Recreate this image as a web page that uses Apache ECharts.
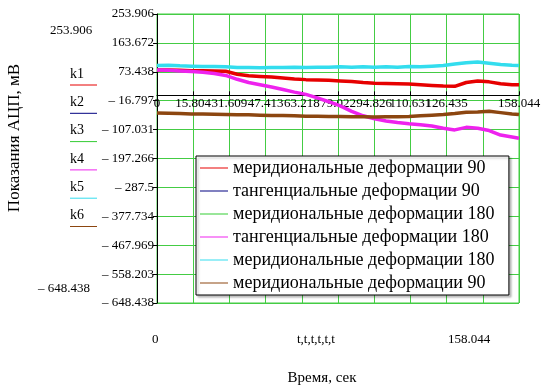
<!DOCTYPE html>
<html>
<head>
<meta charset="utf-8">
<script src="https://cdn.jsdelivr.net/npm/echarts@6/dist/echarts.min.js"></script>
<style>
  html, body { margin: 0; padding: 0; background: #ffffff; }
  #chart { width: 544px; height: 387px; }
</style>
</head>
<body>
<div id="chart"></div>
<script>
// Sample times, s
const time = [0, 5, 10, 15, 20, 25, 30, 35, 40, 45, 50, 55, 60, 65, 70, 75, 80, 85, 90, 95,
              100, 105, 110, 115, 120, 125, 130, 135, 140, 145, 150, 155, 158.044];

// ADC readings per channel, mV
const k1 = [79, 79, 78, 77, 77, 76, 75, 66, 61, 59, 57, 54, 51, 49, 48, 47, 45, 43, 40, 38,
            37, 36, 35, 33, 31, 29, 28, 40, 45, 42, 36, 33, 33];
const k2 = [];
const k3 = [];
const k4 = [79, 78, 76, 74, 72, 68, 62, 50, 40, 33, 26, 18, 10, 3, -8, -20, -33, -50, -64, -73,
            -80, -85, -89, -92, -96, -103, -108, -100, -103, -110, -124, -130, -134];
const k5 = [93, 94, 92, 91, 90, 90, 89, 87, 87, 86, 87, 87, 88, 87, 88, 88, 89, 88, 89, 88,
            89, 88, 90, 89, 91, 93, 98, 102, 104, 100, 96, 94, 93];
const k6 = [-55, -56, -57, -58, -58, -59, -60, -61, -61, -62, -63, -63, -64, -65, -65, -66, -66, -67, -67, -68,
            -67, -67, -66, -64, -62, -60, -57, -53, -52, -50, -54, -58, -60];

// Trailing spaces keep repeated captions as separate legend entries
const seriesNames = [
  'меридиональные деформации 90',
  'тангенциальные деформации 90',
  'меридиональные деформации 180',
  'тангенциальные деформации 180',
  'меридиональные деформации 180 ',
  'меридиональные деформации 90 '
];
const keyNames = ['k1', 'k2', 'k3', 'k4', 'k5', 'k6'];
const colors = ['#e60000', '#000080', '#33cc33', '#ee22ee', '#33ddee', '#8c4610'];

// Axis ranges and tick labels
const xMin = 0, xMax = 158.044, xStep = 15.8044;
const yMin = -648.438, yMax = 253.906, yStep = 90.2344;
const xTickLabels = ['0', '15.804', '31.609', '47.413', '63.218', '79.022', '94.826',
                     '110.631', '126.435', '142.24', '158.044'];
const yTickLabels = ['\u2013 648.438', '\u2013 558.203', '\u2013 467.969', '\u2013 377.734',
                     '\u2013 287.5', '\u2013 197.266', '\u2013 107.031', '\u2013 16.797',
                     '73.438', '163.672', '253.906'];

const FONT = 'Liberation Serif';
const gridGreen = '#44cc44';
const GRID = { left: 157, top: 14, width: 362, height: 289 };

// The time axis is drawn across the plot at zero mV
const zeroY = GRID.top + (yMax - 0) / (yMax - yMin) * GRID.height;
const xAxisOffset = zeroY - (GRID.top + GRID.height);

function pairs(vals) {
  return vals.map((v, i) => [time[i], v]);
}
const channels = [k1, k2, k3, k4, k5, k6];

const chart = echarts.init(document.getElementById('chart'), null, { renderer: 'canvas' });

// Channel key (k1..k6) with its colour swatch, left of the axis
const keyGraphics = [];
keyNames.forEach((k, i) => {
  const yText = 75 + i * 28.3;
  keyGraphics.push({
    type: 'text', left: 70, top: yText - 8,
    style: { text: k, font: '14px "' + FONT + '"', fill: '#000' }
  });
  keyGraphics.push({
    type: 'line', shape: { x1: 70, y1: yText + 10, x2: 97, y2: yText + 10 },
    style: { stroke: colors[i], lineWidth: 1 }
  });
});

chart.setOption({
  animation: false,
  backgroundColor: '#ffffff',
  grid: Object.assign({
    show: true, borderColor: gridGreen, borderWidth: 1, backgroundColor: 'transparent'
  }, GRID),
  xAxis: {
    type: 'value', min: xMin, max: xMax, interval: xStep,
    offset: xAxisOffset,
    axisLine: { show: true, onZero: false, lineStyle: { color: '#000', width: 1 } },
    axisTick: { show: true, inside: true, length: 4, lineStyle: { color: '#000' } },
    axisLabel: {
      show: true, margin: 2, color: '#000', fontFamily: FONT, fontSize: 13,
      showMinLabel: true, showMaxLabel: true, hideOverlap: false,
      formatter: (v) => xTickLabels[Math.round((v - xMin) / xStep)]
    },
    splitLine: { show: true, lineStyle: { color: gridGreen, width: 1 } }
  },
  yAxis: {
    type: 'value', min: yMin, max: yMax, interval: yStep,
    axisLine: { show: true, onZero: false, lineStyle: { color: '#000', width: 1 } },
    axisTick: { show: true, length: 4, lineStyle: { color: '#000' } },
    axisLabel: {
      show: true, margin: 3, color: '#000', fontFamily: FONT, fontSize: 13,
      showMinLabel: true, showMaxLabel: true,
      formatter: (v) => yTickLabels[Math.round((v - yMin) / yStep)]
    },
    splitLine: { show: true, lineStyle: { color: gridGreen, width: 1 } }
  },
  legend: {
    orient: 'vertical', left: 196, top: 156,
    padding: [3, 10, 3, 4], itemGap: 5, itemWidth: 28, itemHeight: 1,
    backgroundColor: '#ffffff', borderColor: '#000', borderWidth: 1,
    shadowColor: 'rgba(0,0,0,0.25)', shadowBlur: 2, shadowOffsetX: 2, shadowOffsetY: 2,
    textStyle: { fontFamily: FONT, fontSize: 18, lineHeight: 18, color: '#000' },
    data: seriesNames.map((name, i) => ({
      name: name,
      icon: 'rect',
      itemStyle: { color: colors[i], borderWidth: 0, borderColor: colors[i] },
      lineStyle: { width: 1, color: colors[i] }
    }))
  },
  series: channels.map((vals, i) => ({
    name: seriesNames[i], type: 'line', data: pairs(vals),
    symbol: 'none', color: colors[i],
    itemStyle: { color: colors[i], borderWidth: 0 },
    lineStyle: { width: 3.5, color: colors[i] }
  })),
  graphic: [
    {
      type: 'text', left: 50, top: 24,
      style: { text: '253.906', font: '13px "' + FONT + '"', fill: '#000' }
    },
    {
      type: 'text', left: 38, top: 282,
      style: { text: '\u2013 648.438', font: '13px "' + FONT + '"', fill: '#000' }
    },
    {
      type: 'text', left: 152, top: 333,
      style: { text: '0', font: '13px "' + FONT + '"', fill: '#000' }
    },
    {
      type: 'text', left: 297, top: 333,
      style: { text: 't,t,t,t,t,t', font: '13px "' + FONT + '"', fill: '#000' }
    },
    {
      type: 'text', left: 448, top: 333,
      style: { text: '158.044', font: '13px "' + FONT + '"', fill: '#000' }
    },
    {
      type: 'text', x: 322, y: 378,
      style: { text: 'Время, сек', font: '15px "' + FONT + '"', fill: '#000', align: 'center', verticalAlign: 'middle' }
    },
    {
      type: 'text', x: 15, y: 138, rotation: Math.PI / 2,
      style: { text: 'Показания АЦП, мВ', font: '17px "' + FONT + '"', fill: '#000', align: 'center', verticalAlign: 'middle' }
    }
  ].concat(keyGraphics)
});
</script>
</body>
</html>
